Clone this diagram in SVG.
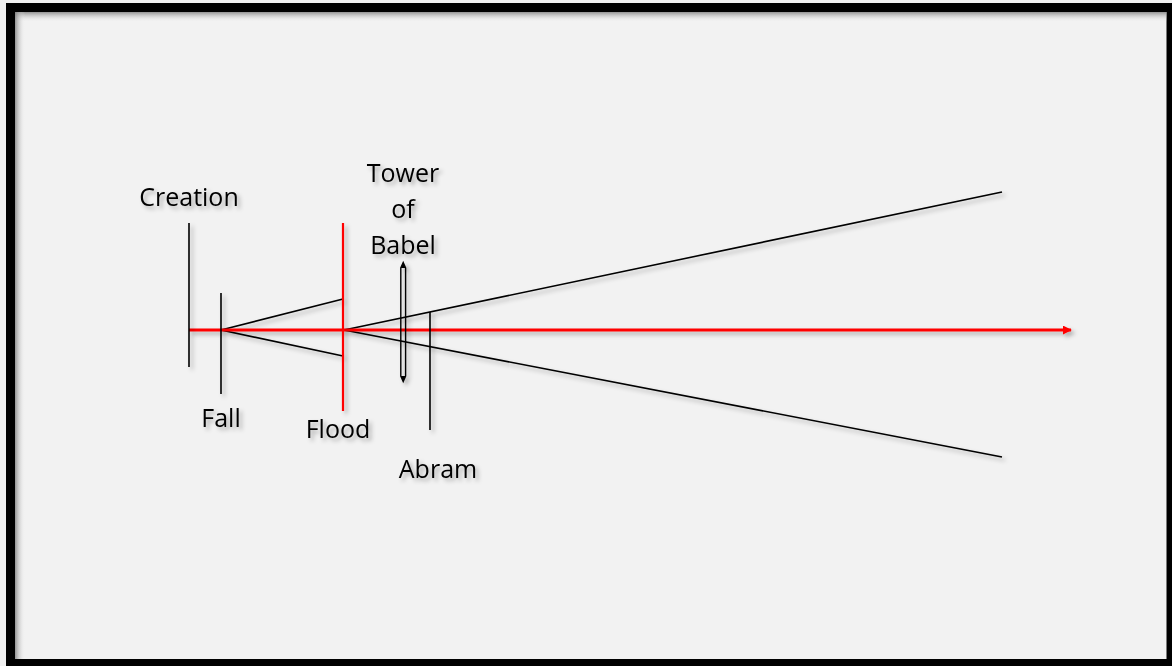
<svg xmlns="http://www.w3.org/2000/svg" width="1172" height="666" viewBox="0 0 1172 666">
  <style>
    .lbl { font-family: "Open Sans", "Liberation Sans", sans-serif; font-size: 25px; fill: #000; text-anchor: middle; }
    .blk { stroke: #000; stroke-width: 1.6; fill: none; }
    .red { stroke: #ff0000; stroke-width: 2.2; fill: none; }
    .axis { stroke: #ff0000; stroke-width: 3; fill: none; }
  </style>
  <defs>
    <filter id="sh" x="-20%" y="-20%" width="140%" height="140%">
      <feDropShadow dx="3" dy="3" stdDeviation="2" flood-color="#000" flood-opacity="0.3"/>
    </filter>
    <linearGradient id="gTop" x1="0" y1="0" x2="0" y2="1">
      <stop offset="0" stop-color="#7a7a7a" stop-opacity="0.8"/>
      <stop offset="1" stop-color="#f2f2f2" stop-opacity="0"/>
    </linearGradient>
    <linearGradient id="gLeft" x1="0" y1="0" x2="1" y2="0">
      <stop offset="0" stop-color="#7a7a7a" stop-opacity="0.8"/>
      <stop offset="1" stop-color="#f2f2f2" stop-opacity="0"/>
    </linearGradient>
    <marker id="arr" viewBox="0 0 10 10" refX="9" refY="5" markerWidth="3" markerHeight="3" orient="auto" markerUnits="strokeWidth">
      <path d="M0,0 L10,5 L0,10 z" fill="#ff0000"/>
    </marker>
  </defs>

  <rect x="0" y="0" width="1172" height="666" fill="#f0f0f0"/>
  <rect x="6" y="3" width="1166" height="663" fill="#000"/>
  <rect x="15" y="12" width="1151.5" height="647" fill="#f2f2f2"/>
  <rect x="15" y="12" width="1151.5" height="10" fill="url(#gTop)"/>
  <rect x="15" y="12" width="10" height="647" fill="url(#gLeft)"/>

  <g id="connectors" filter="url(#sh)">
    <line class="blk" x1="221" y1="330" x2="343" y2="299"/>
    <line class="blk" x1="221" y1="330" x2="343" y2="356"/>
    <line class="blk" x1="344" y1="330" x2="1002" y2="192"/>
    <line class="blk" x1="344" y1="330" x2="1002" y2="457"/>
    <line class="axis" x1="189" y1="330" x2="1071" y2="330" marker-end="url(#arr)"/>
  </g>

  <g id="creation" filter="url(#sh)">
    <line class="blk" x1="189" y1="223" x2="189" y2="367"/>
    <text class="lbl" x="189" y="206">Creation</text>
  </g>
  <g id="fall" filter="url(#sh)">
    <line class="blk" x1="221" y1="293" x2="221" y2="394"/>
    <text class="lbl" x="221" y="427">Fall</text>
  </g>
  <g id="flood" filter="url(#sh)">
    <line class="red" x1="343" y1="223" x2="343" y2="411"/>
    <text class="lbl" x="338" y="438">Flood</text>
  </g>
  <g id="babel" filter="url(#sh)">
    <path d="M403.2,262.5 L405.6,268 L405.6,376 L403.2,381.5 L400.8,376 L400.8,268 Z" stroke="#000" stroke-width="1.4" fill="none"/>
    <path d="M403.2,262.5 L405.6,268 L400.8,268 Z M403.2,381.5 L405.6,376 L400.8,376 Z" fill="#000"/>
    <text class="lbl" x="403" y="182">Tower</text>
    <text class="lbl" x="403" y="218">of</text>
    <text class="lbl" x="403" y="254">Babel</text>
  </g>
  <g id="abram" filter="url(#sh)">
    <line class="blk" x1="430" y1="312" x2="430" y2="430"/>
    <text class="lbl" x="438" y="478">Abram</text>
  </g>
</svg>
